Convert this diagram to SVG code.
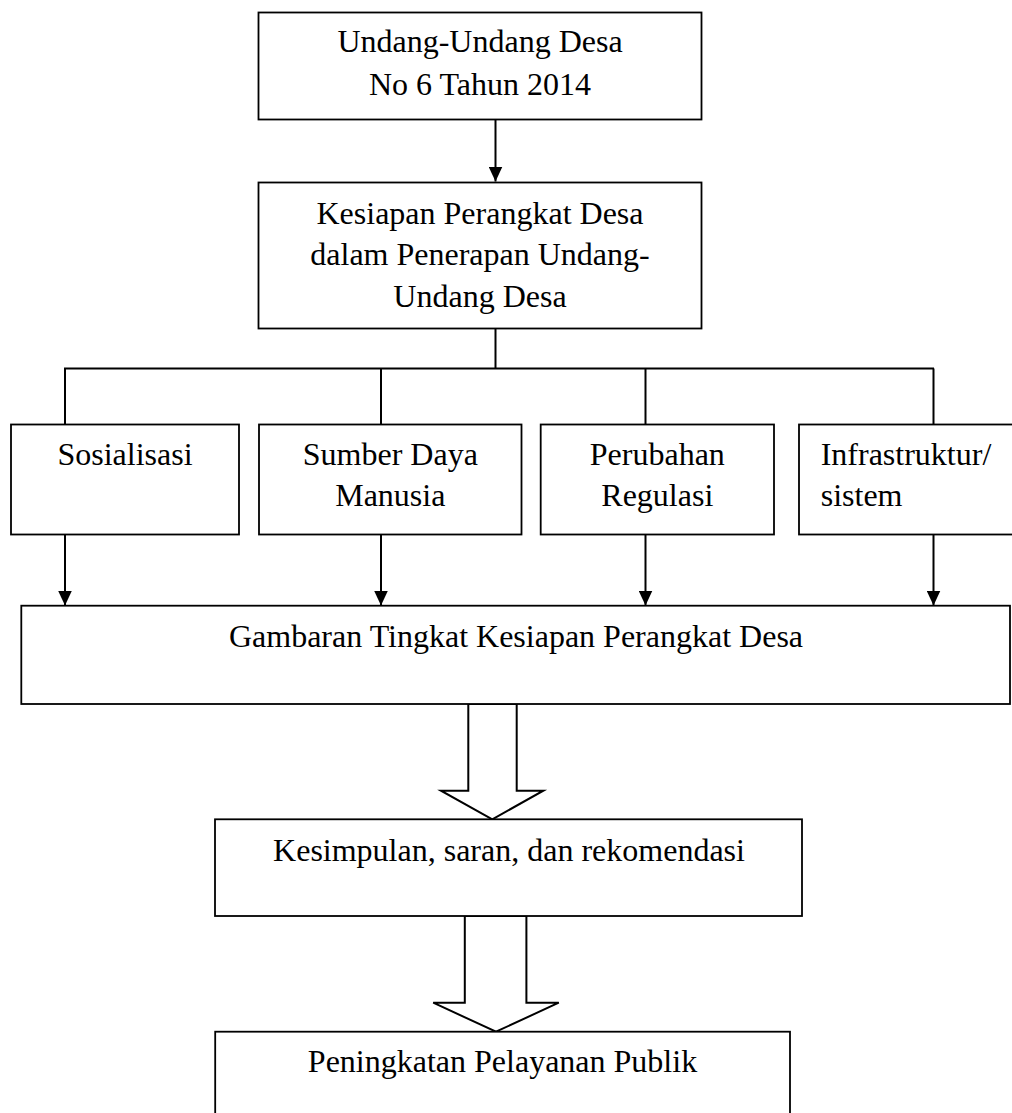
<svg xmlns="http://www.w3.org/2000/svg" width="1012" height="1113" viewBox="0 0 1012 1113">
<style>
.box{fill:#fff;stroke:#000;stroke-width:1.8}
.t{font-family:"Liberation Serif","Times New Roman",serif;font-size:32px;fill:#000}
.c{text-anchor:middle}
.ln{fill:none;stroke:#000;stroke-width:2}
.ha{fill:#fff;stroke:#000;stroke-width:2;stroke-linejoin:miter}
</style>
<defs>
<marker id="ah" markerUnits="userSpaceOnUse" markerWidth="14" markerHeight="16" refX="7" refY="15" orient="0" viewBox="0 0 14 16">
<polygon points="0,0 14,0 7,15" fill="#000"/>
</marker>
</defs>
<rect width="1012" height="1113" fill="#fff"/>
<g id="connectors">
<line class="ln" x1="495.5" y1="119" x2="495.5" y2="181.5" marker-end="url(#ah)"/>
<polyline class="ln" points="495.5,328 495.5,368.5"/>
<line class="ln" x1="64" y1="368.5" x2="934" y2="368.5"/>
<line class="ln" x1="65" y1="368.5" x2="65" y2="424"/>
<line class="ln" x1="381" y1="368.5" x2="381" y2="424"/>
<line class="ln" x1="645.5" y1="368.5" x2="645.5" y2="424"/>
<line class="ln" x1="933.5" y1="368.5" x2="933.5" y2="424"/>
<line class="ln" x1="65" y1="535" x2="65" y2="605.5" marker-end="url(#ah)"/>
<line class="ln" x1="381" y1="535" x2="381" y2="605.5" marker-end="url(#ah)"/>
<line class="ln" x1="645.5" y1="535" x2="645.5" y2="605.5" marker-end="url(#ah)"/>
<line class="ln" x1="933.5" y1="535" x2="933.5" y2="605.5" marker-end="url(#ah)"/>
<polygon class="ha" points="468.3,704 516.7,704 516.7,790.7 543.3,790.7 492.3,819.3 441,790.7 468.3,790.7"/>
<polygon class="ha" points="464.8,916 526.4,916 526.4,1002.7 558.8,1002.7 496,1031.7 433.2,1002.7 464.8,1002.7"/>
</g>
<g id="n1">
<rect class="box" x="258.5" y="12.5" width="443" height="107"/>
<text class="t c" x="480" y="52">Undang-Undang Desa</text>
<text class="t c" x="480" y="94.5">No 6 Tahun 2014</text>
</g>
<g id="n2">
<rect class="box" x="258.5" y="182.5" width="443" height="146"/>
<text class="t c" x="480" y="223.5">Kesiapan Perangkat Desa</text>
<text class="t c" x="480" y="265">dalam Penerapan Undang-</text>
<text class="t c" x="480" y="306.5">Undang Desa</text>
</g>
<g id="n3">
<rect class="box" x="11" y="424.5" width="228" height="110"/>
<text class="t c" x="125" y="465">Sosialisasi</text>
</g>
<g id="n4">
<rect class="box" x="259" y="424.5" width="262.5" height="110"/>
<text class="t c" x="390.3" y="465">Sumber Daya</text>
<text class="t c" x="390.3" y="506">Manusia</text>
</g>
<g id="n5">
<rect class="box" x="540.7" y="424.5" width="233.3" height="110"/>
<text class="t c" x="657.3" y="465">Perubahan</text>
<text class="t c" x="657.3" y="506">Regulasi</text>
</g>
<g id="n6">
<rect class="box" x="799" y="424.5" width="240" height="110"/>
<text class="t" x="820.7" y="465">Infrastruktur/</text>
<text class="t" x="820.7" y="506">sistem</text>
</g>
<g id="n7">
<rect class="box" x="21.3" y="605.7" width="988.7" height="98.3"/>
<text class="t c" x="516" y="646.7">Gambaran Tingkat Kesiapan Perangkat Desa</text>
</g>
<g id="n8">
<rect class="box" x="215" y="819.3" width="587" height="96.7"/>
<text class="t c" x="509" y="860.5">Kesimpulan, saran, dan rekomendasi</text>
</g>
<g id="n9">
<rect class="box" x="215.2" y="1031.7" width="574.8" height="100"/>
<text class="t c" x="502.5" y="1071.7">Peningkatan Pelayanan Publik</text>
</g>
</svg>
